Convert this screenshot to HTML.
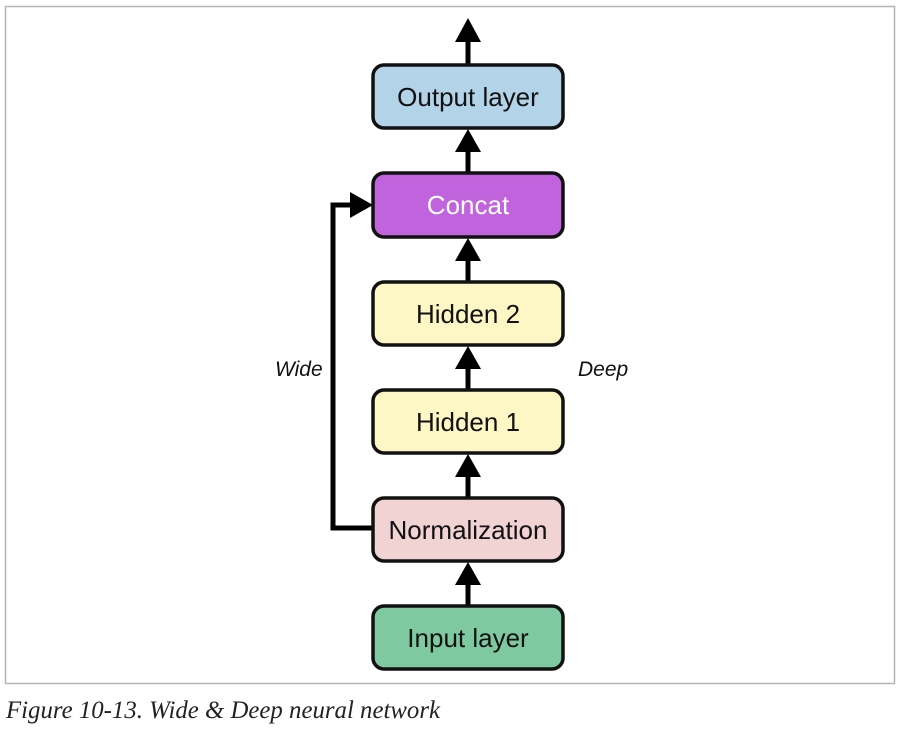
<!DOCTYPE html>
<html><head><style>
body{margin:0;width:900px;height:728px;background:#fff;overflow:hidden}
</style></head><body>
<svg width="900" height="728" xmlns="http://www.w3.org/2000/svg">
<rect x="5.5" y="6.5" width="889" height="677" fill="none" stroke="#b5b5b5" stroke-width="1.5"/>
<g stroke="#000" stroke-width="5" fill="none">
<line x1="468" y1="65" x2="468" y2="38"/>
<line x1="468" y1="173" x2="468" y2="148"/>
<line x1="468" y1="282" x2="468" y2="257"/>
<line x1="468" y1="390" x2="468" y2="365"/>
<line x1="468" y1="498" x2="468" y2="473"/>
<line x1="468" y1="606" x2="468" y2="581"/>
<polyline points="373,528 333,528 333,205 355,205"/>
</g>
<g fill="#000">
<polygon points="455,42 481,42 468,18"/>
<polygon points="455,152 481,152 468,129"/>
<polygon points="455,261 481,261 468,238"/>
<polygon points="455,369 481,369 468,346"/>
<polygon points="455,477 481,477 468,454"/>
<polygon points="455,585 481,585 468,562"/>
<polygon points="350,192 350,218 373,205"/>
</g>
<g stroke="#111" stroke-width="3.5">
<rect x="373" y="65" width="190" height="63" rx="11" fill="#b3d3e8"/>
<rect x="373" y="173" width="190" height="64" rx="11" fill="#c163dd"/>
<rect x="373" y="282" width="190" height="63" rx="11" fill="#fdf6c5"/>
<rect x="373" y="390" width="190" height="63" rx="11" fill="#fdf6c5"/>
<rect x="373" y="498" width="190" height="63" rx="11" fill="#f2d3d3"/>
<rect x="373" y="606" width="190" height="63" rx="11" fill="#7ec9a0"/>
</g>
<g font-family="Liberation Sans Narrow, Liberation Sans, sans-serif" font-size="26" text-anchor="middle" fill="#111">
<text x="468" y="106">Output layer</text>
<text x="468" y="214" fill="#fff">Concat</text>
<text x="468" y="323">Hidden 2</text>
<text x="468" y="431">Hidden 1</text>
<text x="468" y="539">Normalization</text>
<text x="468" y="647">Input layer</text>
</g>
<g font-family="Liberation Sans, sans-serif" font-style="italic" font-size="21" fill="#111">
<text x="275" y="376">Wide</text>
<text x="578" y="376">Deep</text>
</g>
<text x="6" y="718" font-family="Liberation Serif, serif" font-style="italic" font-size="25" textLength="434" lengthAdjust="spacingAndGlyphs" fill="#222">Figure 10-13. Wide &amp; Deep neural network</text>
</svg>
</body></html>
